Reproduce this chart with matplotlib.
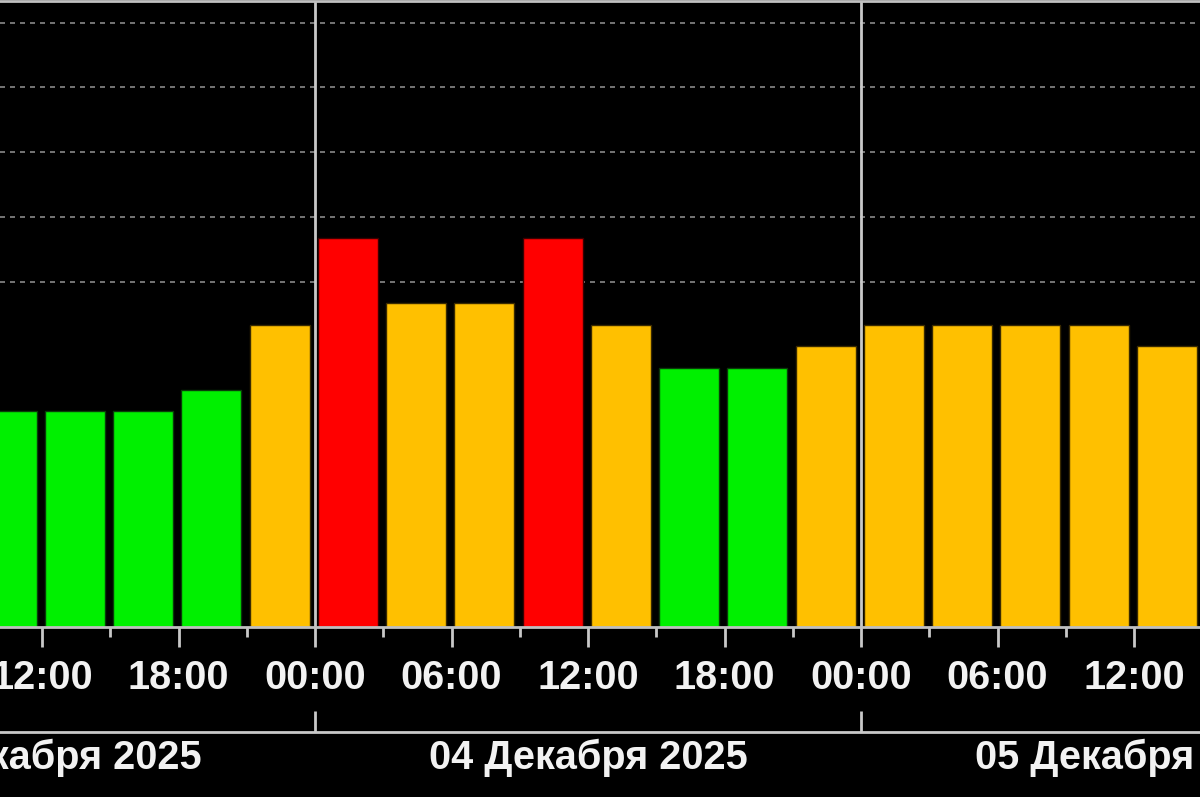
import matplotlib
matplotlib.use("Agg")
import matplotlib.pyplot as plt
import matplotlib.dates as mdates
import pandas as pd

# ---- data ----
bar_starts = ["2025-12-03 09:00", "2025-12-03 12:00", "2025-12-03 15:00", "2025-12-03 18:00",
              "2025-12-03 21:00", "2025-12-04 00:00", "2025-12-04 03:00", "2025-12-04 06:00",
              "2025-12-04 09:00", "2025-12-04 12:00", "2025-12-04 15:00", "2025-12-04 18:00",
              "2025-12-04 21:00", "2025-12-05 00:00", "2025-12-05 03:00", "2025-12-05 06:00",
              "2025-12-05 09:00", "2025-12-05 12:00"]
kp_values = [3.00, 3.00, 3.00, 3.33, 4.33, 5.67, 4.67, 4.67, 5.67, 4.33,
             3.67, 3.67, 4.00, 4.33, 4.33, 4.33, 4.33, 4.00]
day_starts = ["2025-12-04 00:00", "2025-12-05 00:00"]
day_centers = ["2025-12-03 12:00", "2025-12-04 12:00", "2025-12-05 12:00"]
day_labels = ["03 Декабря 2025", "04 Декабря 2025", "05 Декабря 2025"]
grid_levels = [5, 6, 7, 8, 9]

GREEN, YELLOW, RED = "#00f000", "#ffc000", "#ff0000"
EDGE = {GREEN: "#0a3a0a", YELLOW: "#3a2a00", RED: "#3a0000"}

def kp_color(v):
    if v >= 5:
        return RED
    if v >= 4:
        return YELLOW
    return GREEN

starts = mdates.date2num(pd.to_datetime(bar_starts).to_pydatetime())
hour = 1.0 / 24.0
colors = [kp_color(v) for v in kp_values]
ymin, ymax = -1/3, 28/3

fig = plt.figure(figsize=(12, 7.97), dpi=100, facecolor="black")
ax = fig.add_axes([0, 170/797, 1, 626/797])
ax.set_facecolor("black")

ax.bar(starts + 0.12 * hour, [v - ymin for v in kp_values], bottom=ymin,
       width=2.64 * hour, align="edge", color=colors,
       edgecolor=[EDGE[c] for c in colors], linewidth=1.0, zorder=3)

x0 = mdates.date2num(pd.Timestamp("2025-12-03 10:09").to_pydatetime())
x1 = mdates.date2num(pd.Timestamp("2025-12-05 14:54").to_pydatetime())
ax.set_xlim(x0, x1)
ax.set_ylim(ymin, ymax)

ax.set_yticks(grid_levels)
ax.yaxis.grid(True, color="#8a8a8a", linestyle=(0, (3.0, 3.0)), linewidth=1.2, zorder=1)
ax.tick_params(axis="y", left=False, labelleft=False)

for d in day_starts:
    ax.axvline(mdates.date2num(pd.Timestamp(d).to_pydatetime()), color="#c8c8c8",
               linewidth=2, zorder=4)

for s in ["left", "right"]:
    ax.spines[s].set_visible(False)
for s in ["top", "bottom"]:
    ax.spines[s].set_color("#c0c0c0")
    ax.spines[s].set_linewidth(2)
    ax.spines[s].set_zorder(5)

ax.xaxis.set_major_locator(mdates.HourLocator(byhour=[0, 6, 12, 18]))
ax.xaxis.set_minor_locator(mdates.HourLocator(byhour=[3, 9, 15, 21]))
ax.xaxis.set_major_formatter(mdates.DateFormatter("%H:%M"))
ax.tick_params(axis="x", which="major", length=14.5, width=2, color="#c8c8c8",
               pad=8.5, labelsize=28.5, labelcolor="#f2f2f2")
ax.tick_params(axis="x", which="minor", length=7, width=2, color="#c8c8c8")
for lab in ax.get_xticklabels():
    lab.set_fontfamily("Liberation Sans")
    lab.set_fontweight("bold")

# date axis
ax2 = fig.add_axes([0, 65/797, 1, 30/797])
ax2.set_facecolor("none")
ax2.set_xlim(x0, x1)
ax2.set_ylim(0, 1)
for s in ["left", "right", "top"]:
    ax2.spines[s].set_visible(False)
ax2.spines["bottom"].set_color("#c8c8c8")
ax2.spines["bottom"].set_linewidth(2)
ax2.set_yticks([])
ax2.set_xticks(mdates.date2num(pd.to_datetime(day_starts).to_pydatetime()))
ax2.set_xticklabels([])
ax2.tick_params(axis="x", which="major", direction="in", length=15, width=2, color="#c8c8c8")
ax2.set_xticks(mdates.date2num(pd.to_datetime(day_centers).to_pydatetime()), minor=True)
ax2.set_xticklabels(day_labels, minor=True, fontsize=28.5, fontweight="bold",
                    fontfamily="Liberation Sans", color="#f2f2f2")
ax2.tick_params(axis="x", which="minor", length=0, pad=5)

fig.savefig("out.png", dpi=100, facecolor="black")
